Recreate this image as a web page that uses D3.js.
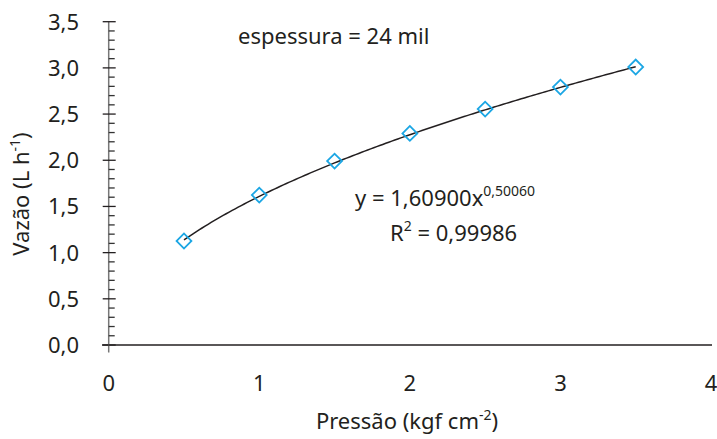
<!DOCTYPE html>
<html><head><meta charset="utf-8">
<script src="https://cdn.jsdelivr.net/npm/d3@7"></script>
<style>body{margin:0;background:#fff}text{font-family:"Noto Sans",sans-serif;fill:#231f20}</style>
</head><body><svg id="c" width="717" height="439"></svg>
<script>
const pressure = [0.5, 1.0, 1.5, 2.0, 2.5, 3.0, 3.5];
const flow = [1.126, 1.623, 1.991, 2.291, 2.554, 2.792, 3.009];
const fitCoef = 1.609, fitExp = 0.5006;
const xTicks = [0, 1, 2, 3, 4];
const yTicks = [0, 0.5, 1.0, 1.5, 2.0, 2.5, 3.0, 3.5];
const fmt = v => v.toFixed(1).replace('.', ',');

const svg = d3.select('#c');
const x = d3.scaleLinear().domain([0, 4]).range([108.7, 711]);
const y = d3.scaleLinear().domain([0, 3.5]).range([345, 21.7]);
const fs = 22, sup = 14;

svg.append('line').attr('x1', 102).attr('x2', 712).attr('y1', y(0)).attr('y2', y(0)).attr('stroke', '#231f20').attr('stroke-width', 1.3);
svg.append('line').attr('x1', x(0)).attr('x2', x(0)).attr('y1', y(3.5)).attr('y2', 352.5).attr('stroke', '#777').attr('stroke-width', 1.5);
const minor = d3.range(0, 36).map(i => i / 10).filter(v => Math.abs(v * 2 - Math.round(v * 2)) > 1e-6);
svg.selectAll('.mn').data(minor).enter().append('line')
  .attr('x1', x(0)).attr('x2', x(0) + 6).attr('y1', d => y(d)).attr('y2', d => y(d))
  .attr('stroke', '#333').attr('stroke-width', 1.3);
svg.selectAll('.mj').data(yTicks).enter().append('line')
  .attr('x1', x(0) - 6).attr('x2', x(0) + 7).attr('y1', d => y(d)).attr('y2', d => y(d))
  .attr('stroke', '#231f20').attr('stroke-width', 1.3);
svg.selectAll('.yl').data(yTicks).enter().append('text')
  .attr('x', 79).attr('y', d => y(d) + 8).attr('text-anchor', 'end').attr('font-size', fs).text(fmt);
svg.selectAll('.xl').data(xTicks).enter().append('text')
  .attr('x', d => x(d)).attr('y', 391).attr('text-anchor', 'middle').attr('font-size', fs).text(d => d);

const cx = d3.range(0.5, 3.5001, 0.02);
const line = d3.line().x(d => x(d)).y(d => y(fitCoef * Math.pow(d, fitExp)));
svg.append('path').datum(cx).attr('d', line).attr('fill', 'none').attr('stroke', '#231f20').attr('stroke-width', 1.5);

const sym = d3.symbol().type(d3.symbolSquare).size(110);
svg.selectAll('.pt').data(pressure).enter().append('path')
  .attr('d', sym).attr('transform', (d, i) => `translate(${x(d)},${y(flow[i])}) rotate(45)`)
  .attr('fill', 'none').attr('stroke', '#1ba6e4').attr('stroke-width', 1.8);

svg.append('text').attr('x', 238).attr('y', 44).attr('font-size', fs).text('espessura = 24 mil');
const eq = svg.append('text').attr('x', 355).attr('y', 206).attr('font-size', fs);
eq.append('tspan').text('y = 1,60900x');
eq.append('tspan').attr('dy', -10).attr('font-size', sup).text('0,50060');
const r2 = svg.append('text').attr('x', 390).attr('y', 241).attr('font-size', fs);
r2.append('tspan').text('R');
r2.append('tspan').attr('dy', -10).attr('font-size', sup).text('2');
r2.append('tspan').attr('dy', 10).text(' = 0,99986');

const xt = svg.append('text').attr('x', 407).attr('y', 429).attr('text-anchor', 'middle').attr('font-size', fs);
xt.append('tspan').text('Pressão (kgf cm');
xt.append('tspan').attr('dy', -9).attr('font-size', sup).text('-2');
xt.append('tspan').attr('dy', 9).text(')');
const yt = svg.append('text').attr('transform', 'translate(29,194) rotate(-90)').attr('text-anchor', 'middle').attr('font-size', fs);
yt.append('tspan').text('Vazão (L h');
yt.append('tspan').attr('dy', -9).attr('font-size', sup).text('-1');
yt.append('tspan').attr('dy', 9).text(')');
</script></body></html>
